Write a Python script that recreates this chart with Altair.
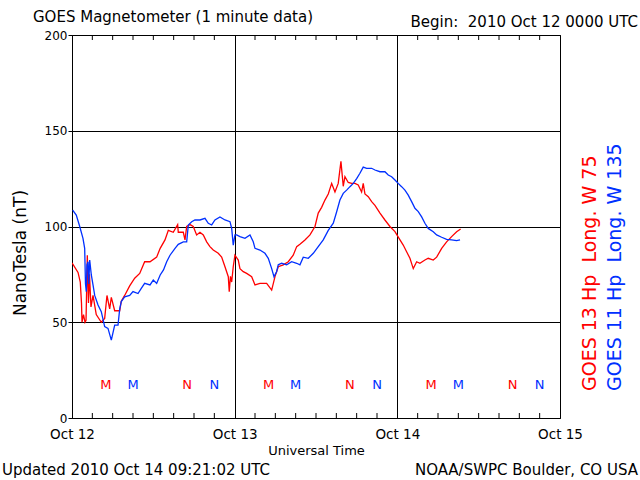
import altair as alt
import pandas as pd

# ---------------- data ----------------
red_hours = [0.00, 0.89, 1.22, 1.40, 1.48, 1.70, 1.92, 2.07, 2.26, 2.43, 2.58, 2.80, 3.10, 3.58,
             4.32, 4.82, 5.16, 5.56, 5.80, 6.30, 7.04, 7.27, 7.77, 8.51, 9.25, 9.99, 10.72, 11.51,
             12.49, 13.01, 13.72, 14.21, 14.94, 15.59, 15.68, 16.42, 16.67, 16.92, 17.41, 17.89,
             18.39, 18.88, 19.37, 19.87, 20.35, 20.84, 21.58, 22.08, 22.57, 23.06, 23.20, 23.38,
             23.56, 23.79, 24.04, 24.53, 24.78, 25.27, 25.77, 26.51, 27.00, 27.73, 28.72, 29.46,
             29.95, 30.43, 31.17, 31.91, 32.64, 33.15, 33.63, 34.37, 35.11, 35.85, 36.33, 36.83,
             37.32, 37.81, 38.31, 38.80, 39.28, 39.68, 40.02, 40.27, 40.76, 41.26, 41.75, 42.23,
             42.73, 42.97, 43.22, 43.71, 44.21, 44.70, 45.44, 46.17, 46.91, 47.65, 48.39, 48.87,
             49.37, 49.86, 50.35, 50.85, 51.33, 52.07, 52.56, 53.30, 53.80, 54.54, 55.27, 56.01,
             56.75, 57.34]
red_values = [81, 76, 71, 60, 50, 54, 50, 51, 85, 60, 75, 58, 64, 54,
              50, 52, 64, 57, 63, 56, 56, 61, 64, 69, 73, 75.5, 81.6, 81.6,
              84, 88.6, 93, 98, 97, 101, 97, 97, 93, 100, 101, 100,
              95.6, 97, 95.6, 92, 89.5, 87.7, 86, 84, 79, 73.8, 66, 74,
              71, 79, 85, 82.5, 78, 76.4, 75.5, 73.8, 69.5, 70.3, 70.3, 66.8,
              73.8, 79, 80, 81.6, 85, 89.5, 90.7, 93, 95.6, 100, 107, 110,
              113.8, 117, 122.5, 118, 122.5, 134, 121, 126, 123, 122.5, 122.5, 121.7,
              118, 122.5, 117, 115.6, 113, 111, 107, 103.4, 100, 97.3, 93, 90.3,
              86.8, 83.4, 78, 81.6, 80.8, 82.5, 83.4, 82.5, 84, 88.6, 92, 94.7,
              97.3, 98.7]

blue_hours = [0.10, 0.63, 1.14, 1.62, 1.87, 1.99, 2.11, 2.21, 2.36, 2.48, 2.61, 2.85, 3.10, 3.35,
              3.84, 4.32, 4.82, 5.31, 5.80, 6.30, 6.79, 7.04, 7.27, 7.77, 8.51, 9.00, 9.74, 10.22,
              10.72, 11.51, 11.99, 12.49, 13.01, 13.50, 13.97, 14.46, 15.20, 15.68, 16.42, 16.92,
              17.16, 17.66, 18.14, 18.88, 19.62, 20.11, 20.61, 21.09, 21.83, 22.57, 23.31, 23.56,
              23.79, 24.04, 24.29, 24.78, 25.52, 26.26, 26.74, 27.00, 27.73, 28.47, 28.96, 29.46,
              29.80, 30.19, 30.43, 30.93, 31.67, 32.41, 33.15, 33.63, 34.12, 34.86, 35.60, 36.33,
              37.07, 37.81, 38.55, 39.05, 39.53, 40.02, 40.52, 41.01, 41.50, 42.00, 42.48, 42.97,
              43.47, 44.21, 44.70, 45.44, 46.17, 46.66, 47.16, 47.65, 48.13, 48.63, 49.12, 49.61,
              50.11, 50.60, 51.09, 51.59, 52.07, 52.56, 53.30, 53.80, 54.54, 55.27, 56.01, 56.75,
              57.25]
blue_values = [108.6, 106, 100, 93.8, 88.6, 70, 66, 80, 81.6, 70, 82.5, 74.7, 69.5, 64,
               59, 55.5, 47.7, 46.8, 40.7, 48.5, 48.5, 57, 60.8, 63.3, 64, 66, 65, 67.7,
               70.3, 69.5, 72, 70.3, 74.7, 77.3, 81.6, 85, 88.6, 90.7, 92, 92,
               100.8, 102.5, 103.4, 103.4, 104.3, 101.7, 100.8, 103.4, 105, 103.4, 102.5, 99,
               90.3, 95.6, 95.6, 94.7, 93.8, 95.6, 92, 88.6, 87.7, 86, 83.4, 78,
               73.8, 76.4, 80, 80.8, 80, 81.6, 80.8, 80, 84, 83.4, 86, 89.5,
               93, 98, 101.7, 107.7, 113.8, 117.3, 119, 120.8, 122.5, 125, 127.8, 131,
               130.4, 130.4, 129.5, 128.6, 128.6, 126.9, 126, 124.3, 122.5, 120.8, 119, 116.4,
               113, 109.5, 107.8, 105, 101.7, 99, 97.3, 95.6, 94.4, 93.3, 93, 92.6,
               93]

series_names = ["GOES 13", "GOES 11"]
day_labels = ["Oct 12", "Oct 13", "Oct 14", "Oct 15"]
day_hours = [0, 24, 48, 72]
y_ticks = [0, 50, 100, 150, 200]
minor_tick_hours = [3, 6, 9, 12, 15, 18, 21, 27, 30, 33, 36, 39, 42, 45, 51, 54, 57, 60, 63, 66, 69]

marker_hours = [5, 9, 17, 21, 29, 33, 41, 45, 53, 57, 65, 69]
marker_text = ["M", "M", "N", "N", "M", "M", "N", "N", "M", "M", "N", "N"]
marker_sat = ["GOES 13", "GOES 11"] * 6
marker_level = 17

NB = "\u00a0"
TITLE = "GOES Magnetometer (1 minute data)"
BEGIN = "Begin:" + NB + NB + "2010 Oct 12 0000 UTC"
UPDATED = "Updated 2010 Oct 14 09:21:02 UTC"
SOURCE = "NOAA/SWPC Boulder, CO USA"
YTITLE = "NanoTesla (nT)"
XTITLE = "Universal Time"
RED_LABEL = "GOES 13 Hp" + NB + NB + "Long. W 75"
BLUE_LABEL = "GOES 11 Hp" + NB + NB + "Long. W 135"

# ---------------- build ----------------
RED = "#ff0000"
BLUE = "#0030ff"
FONT = "DejaVu Sans"
W, H = 488, 383
TICK = 5

df = pd.concat([
    pd.DataFrame({"hour": red_hours, "value": red_values, "sat": series_names[0]}),
    pd.DataFrame({"hour": blue_hours, "value": blue_values, "sat": series_names[1]}),
])
ticks_df = pd.DataFrame({"hour": minor_tick_hours})
markers_df = pd.DataFrame({"hour": marker_hours, "txt": marker_text, "sat": marker_sat,
                           "level": [marker_level] * len(marker_hours)})
one = pd.DataFrame({"a": [0]})

x_scale = alt.Scale(domain=[0, 72], nice=False, zero=False)
y_scale = alt.Scale(domain=[0, 200], nice=False)
color_scale = alt.Scale(domain=series_names, range=[RED, BLUE])

label_expr = "[" + ",".join("'%s'" % s for s in day_labels) + "][round(datum.value/24)]"

x_axis = alt.Axis(values=day_hours, labelExpr=label_expr, title=XTITLE,
                  grid=True, gridColor="black", gridOpacity=1, gridWidth=1,
                  ticks=False, domain=False, labelPadding=9, labelFontSize=13.5,
                  titleFontSize=13, titleFontWeight="normal", titlePadding=4,
                  labelFont=FONT, titleFont=FONT, labelColor="black",
                  titleColor="black", labelFlush=False)
y_axis = alt.Axis(values=y_ticks, title=None, grid=True, gridColor="black",
                  gridOpacity=1, gridWidth=1, tickSize=4, tickColor="black",
                  domain=False, labelPadding=1, labelFontSize=12, labelFont=FONT,
                  labelColor="black")

lines = alt.Chart(df).mark_line(strokeWidth=1.3, clip=True).encode(
    x=alt.X("hour:Q", scale=x_scale, axis=x_axis),
    y=alt.Y("value:Q", scale=y_scale, axis=y_axis),
    color=alt.Color("sat:N", scale=color_scale, legend=None),
    detail="sat:N",
)

bottom_ticks = alt.Chart(ticks_df).mark_rule(color="black", strokeWidth=1).encode(
    x=alt.X("hour:Q"),
    y=alt.value(H - TICK),
    y2=alt.value(H),
)
top_ticks = alt.Chart(ticks_df).mark_rule(color="black", strokeWidth=1).encode(
    x=alt.X("hour:Q"),
    y=alt.value(0),
    y2=alt.value(TICK),
)

markers = alt.Chart(markers_df).mark_text(font=FONT, fontSize=13, baseline="middle").encode(
    x=alt.X("hour:Q"),
    y=alt.Y("level:Q"),
    text="txt:N",
    color=alt.Color("sat:N", scale=color_scale, legend=None),
)

def note(text, x, y, size, align="left", baseline="alphabetic", angle=0, color="black"):
    kw = dict(text=text, font=FONT, fontSize=size, align=align, baseline=baseline, color=color)
    if angle:
        kw["angle"] = angle
    return alt.Chart(one).mark_text(**kw).encode(x=alt.value(x), y=alt.value(y))

notes = [
    note(TITLE, -39, -13.5, 15),
    note(BEGIN, 566, -8, 15, align="right"),
    note(UPDATED, -70, 440, 15),
    note(SOURCE, 566, 440, 15, align="right"),
    note(YTITLE, -51, 218, 17, align="center", baseline="middle", angle=270),
    note(RED_LABEL, 518, 356, 19, align="left", baseline="middle", angle=270, color=RED),
    note(BLUE_LABEL, 543, 356, 19, align="left", baseline="middle", angle=270, color=BLUE),
]

chart = alt.layer(lines, bottom_ticks, top_ticks, markers, *notes).properties(
    width=W, height=H,
    autosize=alt.AutoSizeParams(type="none"),
    padding={"left": 72, "top": 35, "right": 80, "bottom": 62},
    background="white",
).configure_view(stroke="black", strokeWidth=1)

chart.save("out.html", embed_options={"renderer": "svg", "actions": False})
